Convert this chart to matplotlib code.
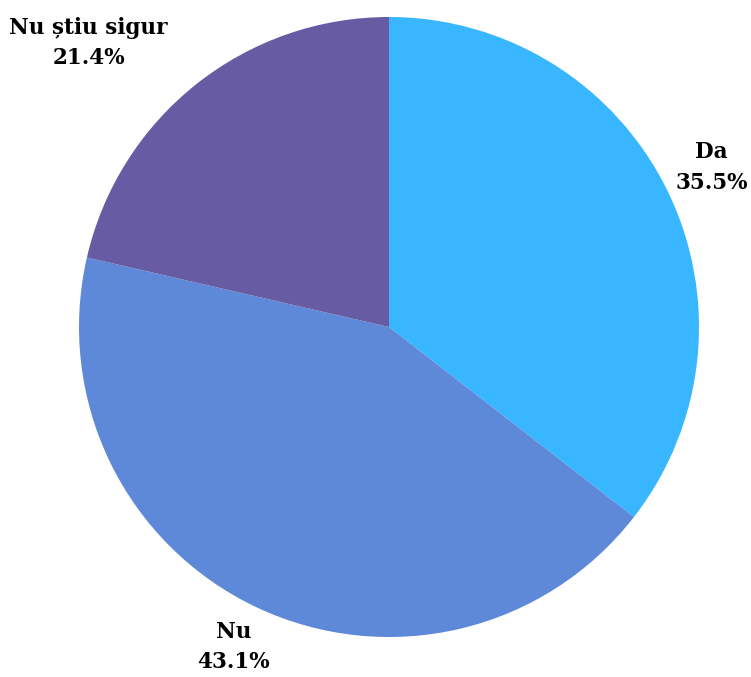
import numpy as np
from matplotlib import pyplot as plt

categorii = ['Da', 'Nu', 'Nu știu sigur']
procente = [35.5, 43.1, 21.4]
culori = ['#38b6ff', '#5e88d8', '#675ba4']

fig = plt.figure(figsize=(7.51, 6.77), dpi=100)
ax = fig.add_axes([0, 0, 1, 1])

wedges, _ = ax.pie(procente, colors=culori, startangle=90, counterclock=False,
                   radius=1.0, center=(0, 0), wedgeprops={'linewidth': 0})

# deplasari ale etichetelor (in unitati de raza)
dist = 1.17
dx = [-0.01, 0.0, -0.24]
dy = [0.0, 0.025, 0.0]
for i, w in enumerate(wedges):
    ang = np.deg2rad((w.theta1 + w.theta2) / 2)
    x = dist * np.cos(ang) + dx[i]
    y = dist * np.sin(ang) + dy[i]
    ax.text(x, y, '{}\n{:.1f}%'.format(categorii[i], procente[i]),
            ha='center', va='center', fontsize=15.5, fontweight='bold',
            family='DejaVu Serif', linespacing=1.5, color='black')

ax.set_xlim(-389 / 310, (751 - 389) / 310)
ax.set_ylim(-(677 - 327) / 310, 327 / 310)
ax.set_aspect('auto')
ax.axis('off')

fig.savefig('out.png', dpi=100)
